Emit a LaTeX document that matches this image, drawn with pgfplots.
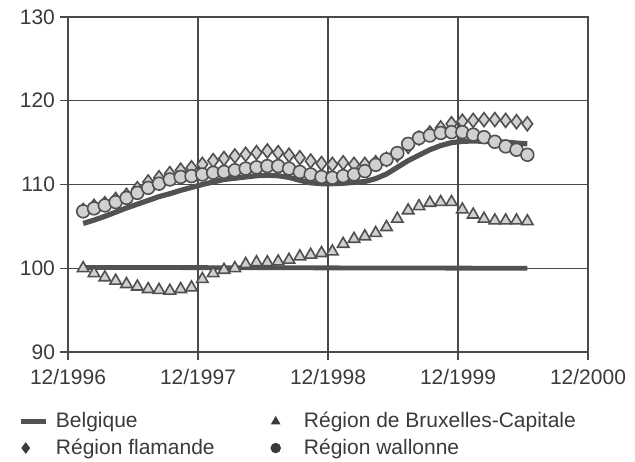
\documentclass[border=0pt]{standalone}
\usepackage{fontspec}
\setmainfont{Liberation Sans}
\usepackage{pgfplots}
\pgfplotsset{compat=1.18}
\usepackage{pgfplotstable}
\definecolor{lineg}{HTML}{525252}
\definecolor{markfill}{HTML}{D0D0D0}
\definecolor{markdraw}{HTML}{505050}
\definecolor{gridc}{HTML}{4A4A4A}
\definecolor{legc}{HTML}{3A3A3A}

\pgfplotstableread{
k x be bx fl wa
1 1.4 105.35 100.0 106.9 106.8
2 2.4 105.75 99.4 107.4 107.15
3 3.4 106.2 98.9 107.7 107.5
4 4.4 106.7 98.5 108.2 107.9
5 5.4 107.2 98.1 108.7 108.4
6 6.4 107.65 97.8 109.5 109.0
7 7.4 108.1 97.5 110.3 109.6
8 8.4 108.55 97.4 110.8 110.1
9 9.4 108.9 97.3 111.3 110.6
10 10.4 109.3 97.5 111.7 110.9
11 11.4 109.65 97.7 112.0 111.0
12 12.4 110.0 98.7 112.4 111.2
13 13.4 110.3 99.4 112.85 111.4
14 14.4 110.6 99.8 113.1 111.5
15 15.4 110.75 100.0 113.4 111.7
16 16.4 110.9 100.5 113.6 111.9
17 17.4 111.05 100.7 113.8 112.05
18 18.4 111.1 100.7 114.0 112.2
19 19.4 111.05 100.8 113.8 112.2
20 20.4 110.85 101.0 113.5 111.9
21 21.4 110.5 101.4 113.2 111.5
22 22.4 110.2 101.6 112.8 111.2
23 23.4 110.1 101.8 112.5 110.9
24 24.4 110.1 102.0 112.4 110.8
25 25.4 110.15 102.9 112.6 111.0
26 26.4 110.25 103.5 112.4 111.2
27 27.4 110.35 103.8 112.4 111.6
28 28.4 110.7 104.2 112.6 112.35
29 29.4 111.25 104.9 113.0 113.0
30 30.4 112.05 105.9 113.55 113.75
31 31.4 112.85 106.9 114.55 114.85
32 32.4 113.5 107.4 115.55 115.55
33 33.4 114.15 107.8 116.15 115.85
34 34.4 114.65 107.9 116.75 116.15
35 35.4 115.0 107.9 117.25 116.25
36 36.4 115.15 107.0 117.55 116.25
37 37.4 115.2 106.4 117.65 115.95
38 38.4 115.15 105.9 117.75 115.65
39 39.4 115.1 105.7 117.75 115.1
40 40.4 115.05 105.7 117.65 114.55
41 41.4 114.95 105.7 117.5 114.15
42 42.4 114.85 105.6 117.25 113.55
}\data

\begin{document}
\begin{tikzpicture}
\begin{axis}[
  at={(0,0)}, anchor=south west,
  width=260pt, height=167.5pt, scale only axis,
  xmin=0, xmax=48, ymin=90, ymax=130,
  xtick={0,12,24,36,48},
  xticklabels={12/1996,12/1997,12/1998,12/1999,12/2000},
  ytick={90,100,110,120,130},
  grid=major, grid style={gridc, line width=0.7pt},
  axis line style={gridc, line width=0.7pt},
  tick style={gridc, line width=0.7pt},
  tick align=outside, major tick length=4pt,
  tick pos=left,
  ticklabel style={font=\fontsize{10.5}{12}\selectfont, text=legc},
  xticklabel style={yshift=-1pt},
  yticklabel style={xshift=1pt},
  /pgf/number format/assume math mode=true,
  legend columns=2,
  legend cell align=left,
  legend style={at={(-0.108,-0.155)}, anchor=north west, draw=none, fill=none,
    font=\fontsize{10.5}{12}\selectfont, text=legc,
    row sep=0pt,
    /tikz/column 2/.style={column sep=25pt}},
]
\addplot[lineg, line width=2.6pt, forget plot] table[x=x,y=be]{\data};
\addplot[lineg, line width=2.4pt, forget plot] coordinates {(1.6,100.1) (42.4,100.0)};
\addplot[only marks, mark=triangle*, mark size=3.3pt,
  mark options={draw=markdraw, fill=markfill, line width=0.8pt}, forget plot] table[x=x,y=bx]{\data};
\addplot[only marks, mark=diamond*, mark size=3.5pt,
  mark options={draw=markdraw, fill=markfill, line width=0.8pt}, forget plot] table[x=x,y=fl]{\data};
\addplot[only marks, mark=*, mark size=3.2pt,
  mark options={draw=markdraw, fill=markfill, line width=0.8pt}, forget plot] table[x=x,y=wa]{\data};

\addlegendimage{legend image code/.code={\path[draw=none,fill=none] (0pt,-3pt) rectangle (15.6pt,3pt); \draw[lineg, line width=2.5pt] (0pt,0pt) -- (12.5pt,0pt);}}
\addlegendentry{Belgique}
\addlegendimage{legend image code/.code={\path[draw=none,fill=none] (0pt,-3pt) rectangle (15.6pt,3pt); \draw[legc, fill=legc, only marks, mark=triangle*, mark size=2.4pt] plot coordinates {(3.5pt,0pt)};}}
\addlegendentry{Région de Bruxelles-Capitale}
\addlegendimage{legend image code/.code={\path[draw=none,fill=none] (0pt,-3pt) rectangle (15.6pt,3pt); \draw[legc, fill=legc, only marks, mark=diamond*, mark size=2.6pt] plot coordinates {(2.5pt,0pt)};}}
\addlegendentry{Région flamande}
\addlegendimage{legend image code/.code={\path[draw=none,fill=none] (0pt,-3pt) rectangle (15.6pt,3pt); \draw[legc, fill=legc, only marks, mark=*, mark size=2.4pt] plot coordinates {(3.5pt,0pt)};}}
\addlegendentry{Région wallonne}
\end{axis}
\pgfresetboundingbox
\path[use as bounding box] (-34pt,-54.5pt) rectangle (283.5pt,176pt);
\end{tikzpicture}
\end{document}
